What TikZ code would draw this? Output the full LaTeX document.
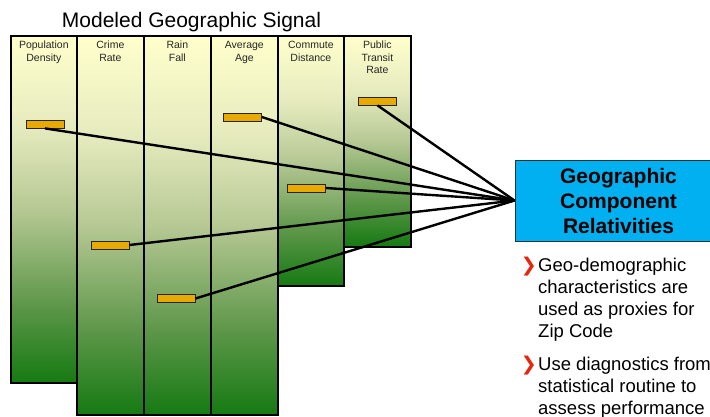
\documentclass[tikz,border=0pt]{standalone}
\usepackage{fontspec}
\setmainfont{Liberation Sans}
\newfontfamily\symfont{DejaVu Sans}

% palette
\definecolor{gTop}{HTML}{FFFFCC}
\definecolor{gHigh}{HTML}{E6EBBE}
\definecolor{gMid}{HTML}{B6C894}
\definecolor{gLow}{HTML}{5C9648}
\definecolor{gBot}{HTML}{157A12}
\definecolor{barFill}{HTML}{E8A900}
\definecolor{boxBlue}{HTML}{00B0F0}
\definecolor{bulletRed}{HTML}{E8240C}
\definecolor{hdrText}{HTML}{262626}

% light yellow at the top of a column, deep green at its foot
\pgfdeclareverticalshading{columnshade}{100bp}{%
  color(0bp)=(gBot); color(25bp)=(gBot); color(36bp)=(gLow);
  color(50bp)=(gMid); color(62bp)=(gHigh); color(75bp)=(gTop);
  color(100bp)=(gTop)}

\tikzset{
  colbox/.style={draw=black, line width=2.2pt, shading=columnshade,
    anchor=north west, minimum width=66.5pt, inner sep=0pt},
  % anchor=base of a multi-line node sits on its last line
  hdr/.style={font=\fontsize{10.5}{12.5}\selectfont, text=hdrText,
    align=center, anchor=base, inner sep=0pt},
  bar/.style={draw=black!85, line width=0.8pt, fill=barFill,
    minimum width=38pt, minimum height=8pt, inner sep=0pt},
  link/.style={draw=black, line width=2.4pt},
  geobox/.style={draw=black!80, line width=1pt, fill=boxBlue,
    minimum width=207pt, minimum height=81pt, align=center,
    font=\fontsize{21}{25}\selectfont\bfseries, inner sep=0pt},
  bultext/.style={font=\fontsize{18.5}{22}\selectfont, align=left,
    anchor=base west, inner sep=0pt},
  bulmark/.style={font=\symfont\fontsize{19}{19}\selectfont,
    text=bulletRed, anchor=base east, inner sep=0pt}
}

\begin{document}
\begin{tikzpicture}[x=1pt, y=-1pt]
\path[use as bounding box, clip] (0,0) rectangle (710,416);

% title
\node[font=\fontsize{21}{21}\selectfont, anchor=base, inner sep=0pt]
  (title) at (191.5,27) {Modeled Geographic Signal};

% columns, left to right
\node[colbox, minimum height=347pt] (cPop)  at (9.5,35)   {};
\node[colbox, minimum height=379pt] (cCrime) at (76,35)   {};
\node[colbox, minimum height=379pt] (cRain) at (143,35)   {};
\node[colbox, minimum height=379pt] (cAge)  at (210,35)   {};
\node[colbox, minimum height=250pt] (cComm) at (276.5,35) {};
\node[colbox, minimum height=211pt] (cPub)  at (343,35)   {};

% column headings
\node[hdr] (hPop)   at ([yshift=-26pt]cPop.north)     {Population\\Density};
\node[hdr] (hCrime) at ([yshift=-26pt]cCrime.north)   {Crime\\Rate};
\node[hdr] (hRain)  at ([yshift=-26pt]cRain.north)    {Rain\\Fall};
\node[hdr] (hAge)   at ([yshift=-26pt]cAge.north)     {Average\\Age};
\node[hdr] (hComm)  at ([yshift=-26pt]cComm.north)    {Commute\\Distance};
\node[hdr] (hPub)   at ([yshift=-38.5pt]cPub.north)   {Public\\Transit\\Rate};

% signal level markers
\node[bar] (bPop)   at (45,124)    {};
\node[bar] (bCrime) at (110,245)   {};
\node[bar] (bRain)  at (176,298.5) {};
\node[bar] (bAge)   at (242.5,117) {};
\node[bar] (bComm)  at (306.5,188) {};
\node[bar] (bPub)   at (377.5,101) {};

% target box
\node[geobox] (geo) at (618.5,200.5) {Geographic\\Component\\Relativities};

% links from each marker to the box
\draw[link] (bPop.south)  -- (geo.west);
\draw[link] (bCrime.east) -- (geo.west);
\draw[link] (bRain.east)  -- (geo.west);
\draw[link] (bAge.east)   -- (geo.west);
\draw[link] (bComm.east)  -- (geo.west);
\draw[link] (bPub.south)  -- (geo.west);

% bullet notes
\node[bulmark] (m1) at (537,271) {❯};
\node[bultext] (t1) at (538,337)
  {Geo-demographic\\characteristics are\\used as proxies for\\Zip Code};
\node[bulmark] (m2) at (537,370.5) {❯};
\node[bultext] (t2) at (538,414.5)
  {Use diagnostics from\\statistical routine to\\assess performance};
\end{tikzpicture}
\end{document}
